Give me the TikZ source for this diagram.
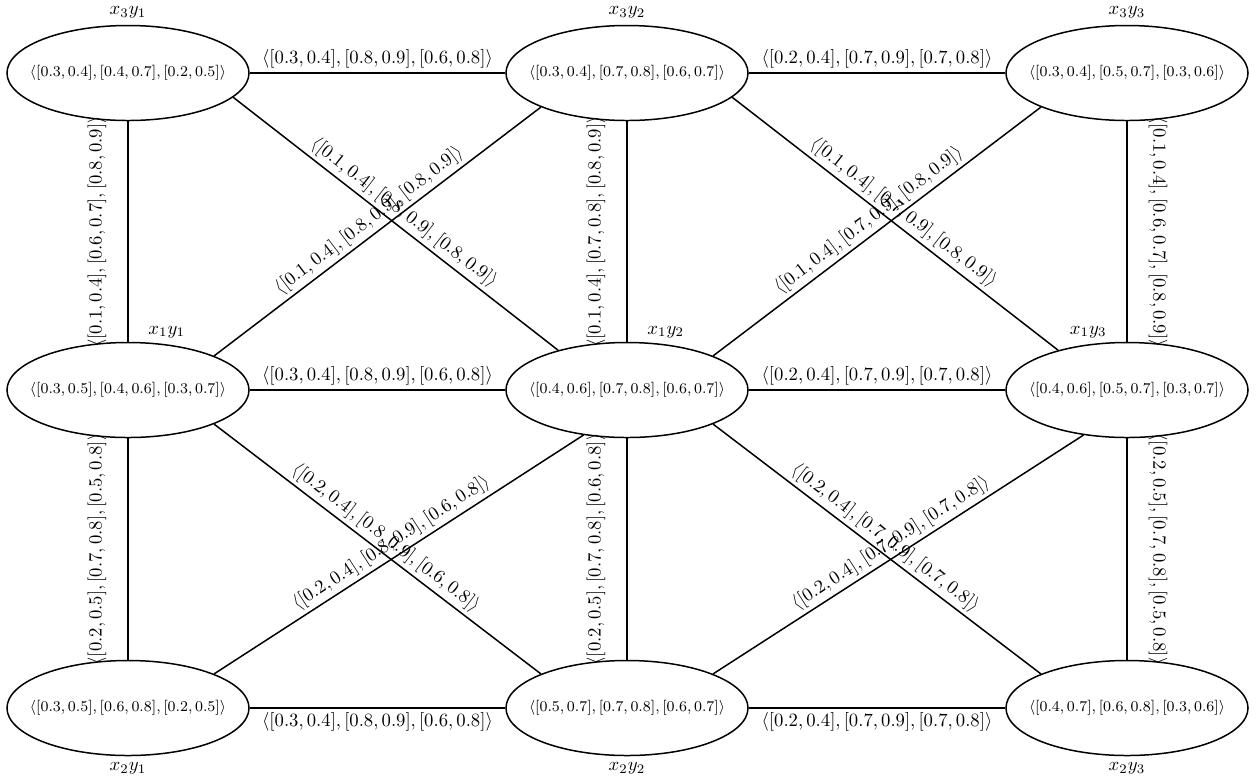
\documentclass[tikz,border=0pt]{standalone}
\usetikzlibrary{shapes.geometric,calc}
\newcommand{\ntxt}[1]{\makebox[0pt]{$#1$}}
\begin{document}
\begin{tikzpicture}[x=0.0188cm,y=-0.0188cm,
  vert/.style={ellipse,draw,line width=0.8pt,minimum width=4.55cm,minimum height=1.786cm,inner sep=0pt,font=\footnotesize},
  edge/.style={line width=0.8pt},
  elab/.style={inner sep=2pt,midway},
  vlabl/.style={inner sep=0pt,rotate=90},
  vlabr/.style={inner sep=0pt,rotate=-90},
  dlab/.style={inner sep=2pt,midway,sloped,above}]
\useasboundingbox (0,0) rectangle (1258,780);
% vertices
\node[vert,label={above:$x_3y_1$}] (x3y1) at (128,73) {\ntxt{\langle[0.3,0.4],[0.4,0.7],[0.2,0.5]\rangle}};
\node[vert,label={above:$x_3y_2$}] (x3y2) at (627,73) {\ntxt{\langle[0.3,0.4],[0.7,0.8],[0.6,0.7]\rangle}};
\node[vert,label={above:$x_3y_3$}] (x3y3) at (1127,73) {\ntxt{\langle[0.3,0.4],[0.5,0.7],[0.3,0.6]\rangle}};
\node[vert] (x1y1) at (128,390) {\ntxt{\langle[0.3,0.5],[0.4,0.6],[0.3,0.7]\rangle}};
\node[vert] (x1y2) at (627,390) {\ntxt{\langle[0.4,0.6],[0.7,0.8],[0.6,0.7]\rangle}};
\node[vert] (x1y3) at (1127,390) {\ntxt{\langle[0.4,0.6],[0.5,0.7],[0.3,0.7]\rangle}};
\node[vert,label={below:$x_2y_1$}] (x2y1) at (128,708) {\ntxt{\langle[0.3,0.5],[0.6,0.8],[0.2,0.5]\rangle}};
\node[vert,label={below:$x_2y_2$}] (x2y2) at (627,708) {\ntxt{\langle[0.5,0.7],[0.7,0.8],[0.6,0.7]\rangle}};
\node[vert,label={below:$x_2y_3$}] (x2y3) at (1127,708) {\ntxt{\langle[0.4,0.7],[0.6,0.8],[0.3,0.6]\rangle}};
% middle row names
\node[anchor=south west,xshift=0.26cm,yshift=-0.05cm] (n11) at (x1y1.north) {$x_1y_1$};
\node[anchor=south west,xshift=0.26cm,yshift=-0.05cm] (n12) at (x1y2.north) {$x_1y_2$};
\node[anchor=south east,xshift=-0.26cm,yshift=-0.05cm] (n13) at (x1y3.north) {$x_1y_3$};
% horizontal edges
\draw[edge] (x3y1) -- node[elab,above]{$\langle[0.3,0.4],[0.8,0.9],[0.6,0.8]\rangle$} (x3y2);
\draw[edge] (x3y2) -- node[elab,above]{$\langle[0.2,0.4],[0.7,0.9],[0.7,0.8]\rangle$} (x3y3);
\draw[edge] (x1y1) -- node[elab,above]{$\langle[0.3,0.4],[0.8,0.9],[0.6,0.8]\rangle$} (x1y2);
\draw[edge] (x1y2) -- node[elab,above]{$\langle[0.2,0.4],[0.7,0.9],[0.7,0.8]\rangle$} (x1y3);
\draw[edge] (x2y1) -- node[elab,below]{$\langle[0.3,0.4],[0.8,0.9],[0.6,0.8]\rangle$} (x2y2);
\draw[edge] (x2y2) -- node[elab,below]{$\langle[0.2,0.4],[0.7,0.9],[0.7,0.8]\rangle$} (x2y3);
% vertical edges
\draw[edge] (x3y1) -- (x1y1);
\draw[edge] (x3y2) -- (x1y2);
\draw[edge] (x3y3) -- (x1y3);
\draw[edge] (x1y1) -- (x2y1);
\draw[edge] (x1y2) -- (x2y2);
\draw[edge] (x1y3) -- (x2y3);
\node[vlabl] (v1) at ($(x3y1.south)!0.5!(x1y1.north)+(-31,0)$) {$\langle[0.1,0.4],[0.6,0.7],[0.8,0.9]\rangle$};
\node[vlabl] (v2) at ($(x3y2.south)!0.5!(x1y2.north)+(-31,0)$) {$\langle[0.1,0.4],[0.7,0.8],[0.8,0.9]\rangle$};
\node[vlabr] (v3) at ($(x3y3.south)!0.5!(x1y3.north)+(31,0)$) {$\langle[0.1,0.4],[0.6,0.7],[0.8,0.9]\rangle$};
\node[vlabl] (v4) at ($(x1y1.south)!0.5!(x2y1.north)+(-31,0)$) {$\langle[0.2,0.5],[0.7,0.8],[0.5,0.8]\rangle$};
\node[vlabl] (v5) at ($(x1y2.south)!0.5!(x2y2.north)+(-31,0)$) {$\langle[0.2,0.5],[0.7,0.8],[0.6,0.8]\rangle$};
\node[vlabr] (v6) at ($(x1y3.south)!0.5!(x2y3.north)+(31,0)$) {$\langle[0.2,0.5],[0.7,0.8],[0.5,0.8]\rangle$};
% diagonal edges
\draw[edge] (x3y1.347) -- node[dlab]{$\langle[0.1,0.4],[0.8,0.9],[0.8,0.9]\rangle$} (x1y2.150);
\draw[edge] (x1y1.north east) -- node[dlab]{$\langle[0.1,0.4],[0.8,0.9],[0.8,0.9]\rangle$} (x3y2.south west);
\draw[edge] (x3y2.347) -- node[dlab]{$\langle[0.1,0.4],[0.7,0.9],[0.8,0.9]\rangle$} (x1y3.150);
\draw[edge] (x1y2.north east) -- node[dlab]{$\langle[0.1,0.4],[0.7,0.9],[0.8,0.9]\rangle$} (x3y3.south west);
\draw[edge] (x1y1.south east) -- node[dlab]{$\langle[0.2,0.4],[0.8,0.9],[0.6,0.8]\rangle$} (x2y2.north west);
\draw[edge] (x2y1.north east) -- node[dlab]{$\langle[0.2,0.4],[0.8,0.9],[0.6,0.8]\rangle$} (x1y2.226);
\draw[edge] (x1y2.south east) -- node[dlab]{$\langle[0.2,0.4],[0.7,0.9],[0.7,0.8]\rangle$} (x2y3.north west);
\draw[edge] (x2y2.north east) -- node[dlab]{$\langle[0.2,0.4],[0.7,0.9],[0.7,0.8]\rangle$} (x1y3.226);
\end{tikzpicture}
\end{document}
